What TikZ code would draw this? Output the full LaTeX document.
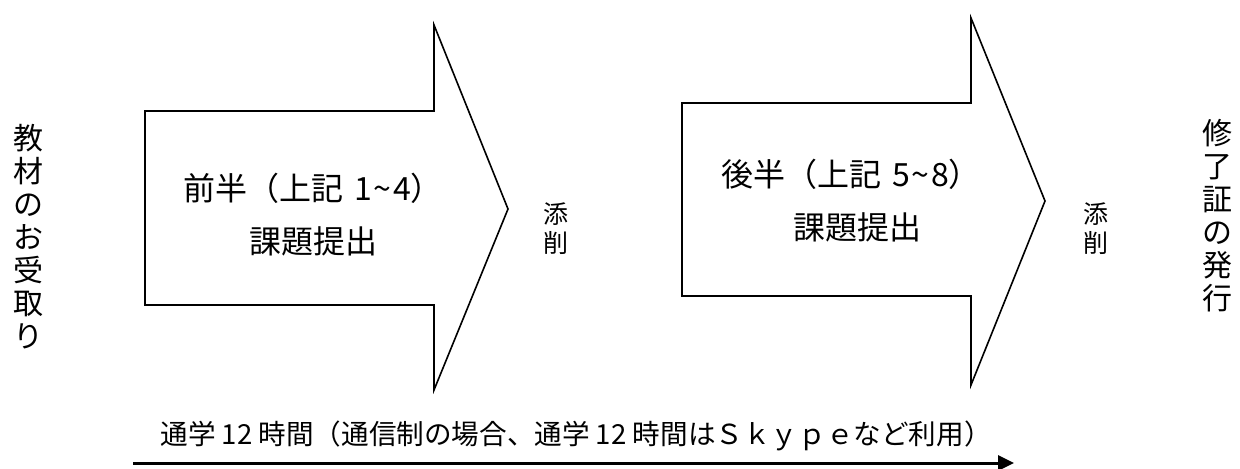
\documentclass[tikz,border=0pt]{standalone}
\usepackage{fontspec}
\setmainfont{Noto Sans CJK JP}
\usetikzlibrary{arrows.meta}
\tikzset{
  blockarrow/.style={draw=black, line width=0.8pt, fill=white, line join=miter},
  bigtext/.style={font=\fontsize{16}{18}\selectfont, inner sep=0pt, anchor=center},
  vtext/.style={font=\fontsize{15}{16.5}\selectfont, align=center, inner sep=0pt},
  smalltext/.style={font=\fontsize{12.5}{14.5}\selectfont, align=center, inner sep=0pt},
  flowline/.style={line width=1.5pt, -{Triangle[length=8pt,width=7.5pt]}},
  bottomtext/.style={font=\fontsize{13.8}{16}\selectfont, inner sep=0pt}
}
\begin{document}
\begin{tikzpicture}[x=0.5pt,y=-0.5pt]
\useasboundingbox (0,0) rectangle (1240,469);
% first block arrow
\draw[blockarrow] (145,111) -- (434,111) -- (434,25) -- (508,209) -- (434,390) -- (434,305) -- (145,305) -- cycle;
% second block arrow
\draw[blockarrow] (682,103) -- (971,103) -- (971,18) -- (1045,201) -- (971,385) -- (971,296) -- (682,296) -- cycle;
% texts inside arrows
\node[bigtext] (a1) at (313,188) {前半（上記\hspace{0.35em}1\hspace{0.05em}\textasciitilde\hspace{0.05em}4）};
\node[bigtext] (a2) at (313,241) {課題提出};
\node[bigtext] (b1) at (851,174) {後半（上記\hspace{0.35em}5\hspace{0.05em}\textasciitilde\hspace{0.05em}8）};
\node[bigtext] (b2) at (857,227) {課題提出};
% small labels
\node[smalltext] (t1) at (556,229) {添\\削};
\node[smalltext] (t2) at (1096,229) {添\\削};
% vertical labels
\node[vtext] (left) at (28,237) {教\\材\\の\\お\\受\\取\\り};
\node[vtext] (right) at (1217,216) {修\\了\\証\\の\\発\\行};
% bottom
\node[bottomtext] (bt) at (576,436) {通学 12 時間（通信制の場合、通学 12 時間はＳｋｙｐｅなど利用）};
\coordinate (s) at (133,463);
\coordinate (e) at (1014,463);
\draw[flowline] (s) -- (e);
\end{tikzpicture}
\end{document}
